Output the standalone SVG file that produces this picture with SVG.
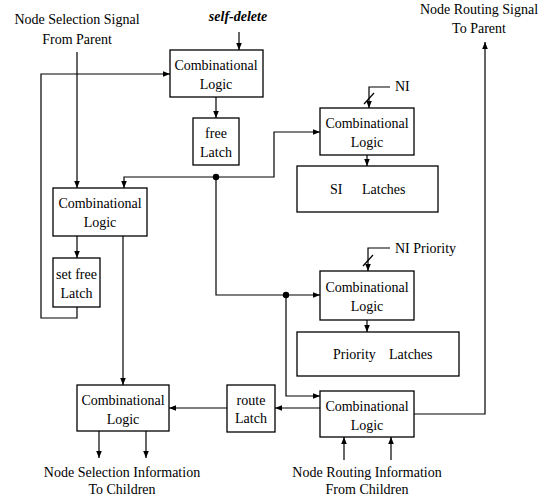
<svg xmlns="http://www.w3.org/2000/svg" width="543" height="498" viewBox="0 0 543 498">
<style>
  .box { fill: #fff; stroke: #000; stroke-width: 1.3; }
  .ln { fill: none; stroke: #000; stroke-width: 1.2; }
  .arr { fill: none; stroke: #000; stroke-width: 1.2; marker-end: url(#ah); }
  text { font-family: "Liberation Serif", "Times New Roman", serif; font-size: 14px; fill: #000; }
  .c { text-anchor: middle; }
  .it { font-style: italic; font-weight: bold; }
</style>
<defs>
  <marker id="ah" viewBox="0 0 10 10" refX="10" refY="5" markerWidth="7" markerHeight="7" markerUnits="userSpaceOnUse" orient="auto">
    <path d="M0,1 L10,5 L0,9 z" fill="#000"/>
  </marker>
</defs>
<rect width="543" height="498" fill="#fff"/>

<g id="labels">
  <text class="c" x="77" y="24">Node Selection Signal</text>
  <text class="c" x="77" y="44">From Parent</text>
  <text class="c it" x="238" y="21">self-delete</text>
  <text class="c" x="479" y="14">Node Routing Signal</text>
  <text class="c" x="479" y="33">To Parent</text>
  <text x="395" y="91">NI</text>
  <text x="395" y="253">NI Priority</text>
  <text class="c" x="122" y="477">Node Selection Information</text>
  <text class="c" x="122" y="494">To Children</text>
  <text class="c" x="367" y="477">Node Routing Information</text>
  <text class="c" x="367" y="494">From Children</text>
</g>

<g id="cl1">
  <rect class="box" x="170" y="50" width="93" height="47"/>
  <text class="c" x="216" y="70">Combinational</text>
  <text class="c" x="216" y="89">Logic</text>
</g>
<g id="freeLatch">
  <rect class="box" x="193" y="118" width="46" height="47"/>
  <text class="c" x="216" y="138">free</text>
  <text class="c" x="216" y="157">Latch</text>
</g>
<g id="cl2">
  <rect class="box" x="53" y="188" width="94" height="48"/>
  <text class="c" x="100" y="208">Combinational</text>
  <text class="c" x="100" y="227">Logic</text>
</g>
<g id="setFreeLatch">
  <rect class="box" x="53" y="258" width="47" height="49"/>
  <text class="c" x="76.5" y="279">set free</text>
  <text class="c" x="76.5" y="298">Latch</text>
</g>
<g id="cl3">
  <rect class="box" x="320" y="108" width="94" height="47"/>
  <text class="c" x="367" y="128">Combinational</text>
  <text class="c" x="367" y="147">Logic</text>
</g>
<g id="siLatches">
  <rect class="box" x="297" y="166" width="141" height="46"/>
  <text x="330" y="194">SI</text>
  <text x="362" y="194">Latches</text>
</g>
<g id="cl4">
  <rect class="box" x="320" y="271" width="94" height="49"/>
  <text class="c" x="367" y="292">Combinational</text>
  <text class="c" x="367" y="311">Logic</text>
</g>
<g id="priorityLatches">
  <rect class="box" x="297" y="332" width="162" height="44"/>
  <text x="333" y="359">Priority</text>
  <text x="389" y="359">Latches</text>
</g>
<g id="cl5">
  <rect class="box" x="320" y="391" width="94" height="46"/>
  <text class="c" x="367" y="411">Combinational</text>
  <text class="c" x="367" y="430">Logic</text>
</g>
<g id="routeLatch">
  <rect class="box" x="227" y="385" width="48" height="47"/>
  <text class="c" x="251" y="405">route</text>
  <text class="c" x="251" y="423">Latch</text>
</g>
<g id="cl6">
  <rect class="box" x="77" y="385" width="92" height="46"/>
  <text class="c" x="123" y="405">Combinational</text>
  <text class="c" x="123" y="424">Logic</text>
</g>

<g id="connectors">
  <!-- parent selection into CL2 -->
  <path class="arr" d="M77,52 V188"/>
  <!-- self-delete -->
  <path class="arr" d="M239,32 V50"/>
  <!-- feedback from set free latch to CL1 -->
  <path class="arr" d="M77,307 V318 H41 V74 H170"/>
  <!-- CL1 to free latch -->
  <path class="arr" d="M216,97 V118"/>
  <!-- junction network -->
  <path class="arr" d="M216,177 H124 V188"/>
  <path class="arr" d="M216,177 H274 V132 H320"/>
  <path class="arr" d="M216,177 V295 H320"/>
  <path class="arr" d="M286,295 V396 H320"/>
  <circle cx="216" cy="177" r="3.2" fill="#000"/>
  <circle cx="286" cy="295" r="3.2" fill="#000"/>
  <!-- NI -->
  <path class="arr" d="M390,87 H369 V108"/>
  <path class="ln" d="M364,104 L374,93"/>
  <!-- CL3 to SI latches -->
  <path class="arr" d="M367,155 V166"/>
  <!-- NI Priority -->
  <path class="arr" d="M390,248 H368 V271"/>
  <path class="ln" d="M363,266 L373,255"/>
  <!-- CL4 to priority latches -->
  <path class="arr" d="M367,320 V332"/>
  <!-- CL2 set free latch -->
  <path class="arr" d="M77,236 V258"/>
  <!-- CL2 to CL6 -->
  <path class="arr" d="M123,236 V385"/>
  <!-- CL5 to route latch, route latch to CL6 -->
  <path class="arr" d="M320,408 H275"/>
  <path class="arr" d="M227,408 H169"/>
  <!-- CL5 to parent -->
  <path class="arr" d="M414,414 H485 V42"/>
  <!-- children inputs -->
  <path class="arr" d="M344,460 V437"/>
  <path class="arr" d="M391,460 V437"/>
  <!-- CL6 outputs -->
  <path class="arr" d="M99,431 V458"/>
  <path class="arr" d="M146,431 V458"/>
</g>
</svg>
